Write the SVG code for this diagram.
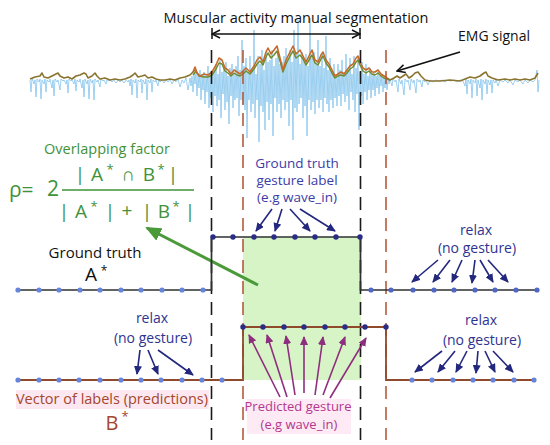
<svg xmlns="http://www.w3.org/2000/svg" width="550" height="445" viewBox="0 0 550 445">
<style>
text{font-family:"Open Sans","Liberation Sans",sans-serif}
.navy{fill:#3c3ca6;font-size:13.5px}
.relax{fill:#2f3390;font-size:14px}
.grn{fill:#3f923a}
.brn{fill:#a4472c}
.mag{fill:#b4378f;font-size:13px}
.na{stroke:#23287e;stroke-width:1.6;fill:none;marker-end:url(#hn)}
.pa{stroke:#8e2e7e;stroke-width:1.6;fill:none;marker-end:url(#hp)}
.bd{stroke:#1a1a1a;stroke-width:1.6;stroke-dasharray:13 8;fill:none}
.rd{stroke:#b55a3c;stroke-width:1.6;stroke-dasharray:13 8;fill:none}
.dl{fill:#6684dc}
.dn{fill:#2a2c86}
.dm{fill:#4f68c6}
</style>
<defs>
<marker id="hn" markerUnits="userSpaceOnUse" markerWidth="9" markerHeight="8" refX="8" refY="4" orient="auto"><path d="M0,0 L9,4 L0,8 z" fill="#23287e"/></marker>
<marker id="hp" markerUnits="userSpaceOnUse" markerWidth="9" markerHeight="8" refX="8" refY="4" orient="auto"><path d="M0,0 L9,4 L0,8 z" fill="#8e2e7e"/></marker>
<marker id="hg" markerUnits="userSpaceOnUse" markerWidth="16" markerHeight="14" refX="14" refY="7" orient="auto"><path d="M0,0 L16,7 L0,14 z" fill="#4b9a3a"/></marker>
<marker id="hk" markerUnits="userSpaceOnUse" markerWidth="10" markerHeight="10" refX="9" refY="5" orient="auto-start-reverse"><path d="M1,1 L9,5 L1,9" fill="none" stroke="#111" stroke-width="1.5"/></marker>
</defs>

<g id="emg-signal">
<polyline fill="none" stroke="#78bdea" stroke-width="0.8" stroke-opacity="0.9" points="30,80 31,92 32,78 34,84 35,80 36,97 37,79 39,82 40,79 41,99 42,80 44,84 45,79 46,92 47,80 49,82 50,79 52,88 53,80 54,96 55,79 57,82 58,80 60,90 61,79 63,81 64,80 66,84 67,80 68,93 69,79 71,81 72,80 74,84 75,79 76,91 77,80 79,82 80,79 82,88 83,80 84,97 85,79 87,84 88,80 89,99 90,79 92,83 93,80 94,100 95,79 97,82 98,80 100,87 101,79 103,81 104,80 106,84 107,80 109,81 110,80 112,82 114,80 116,83 118,80 120,82 122,80 124,83 126,80 128,82 129,80 130,86 131,79 132,95 133,80 135,83 136,79 137,98 138,80 140,82 141,79 142,93 143,80 145,84 146,79 147,100 148,80 150,83 151,79 152,92 153,80 155,82 156,80 158,86 159,80 160,82 162,80 164,83 166,80 168,82 170,79 172,84 174,80 176,82 178,79 180,87 182,80 184,83 186,78 188,90 190,78 191,86 192,76 193,92 194,74 195,84 196,72 197,96 198,75 199,88 200,70 201,100 202,76 203,90 204,72 205,104 206,74 207,92 208,66 209,108 210,76 211,98 212,70 213,112 214,72 215,96 216,64 217,106 218,74 219,100 220,60 221,118 222,72 223,94 224,66 225,110 226,62 227,102 228,76 229,124 230,68 231,96 232,64 233,108 234,74 235,100 236,66 237,98 238,56 239,116 240,70 241,100 242,40 243,104 244,66 245,110 246,58 247,138 248,72 249,100 250,56 251,112 252,68 253,104 254,30 255,118 256,74 257,100 258,56 259,142 260,64 261,106 262,50 263,112 264,70 265,130 266,52 267,102 268,62 269,120 270,60 271,104 272,50 273,136 274,66 275,98 276,58 277,112 278,54 279,104 280,64 281,118 282,62 283,100 284,56 285,110 286,48 287,102 288,58 289,126 290,50 291,100 292,62 293,140 294,30 295,108 296,54 297,112 298,20 299,104 300,64 301,98 302,52 303,118 304,58 305,106 306,54 307,136 308,66 309,100 310,18 311,110 312,58 313,102 314,52 315,114 316,62 317,100 318,40 319,108 320,66 321,100 322,54 323,112 324,68 325,98 326,36 327,104 328,70 329,112 330,58 331,100 332,72 333,108 334,64 335,98 336,74 337,106 338,64 339,96 340,70 341,106 342,60 343,94 344,72 345,102 346,54 347,96 348,70 349,110 350,58 351,92 352,74 353,100 354,56 355,112 356,68 357,94 358,58 359,130 360,72 361,96 362,62 363,104 364,74 365,92 366,64 367,100 368,76 369,90 370,68 371,98 372,74 373,90 374,72 375,96 376,76 377,88 378,72 379,94 380,76 381,86 382,74 383,92 384,78 385,88 386,76 387,90 388,78 389,84 390,79 392,86 393,79 395,82 396,80 398,92 399,79 401,84 402,80 404,95 405,79 407,82 408,80 410,90 411,79 413,83 414,80 416,93 417,79 419,82 420,80 422,87 423,80 425,82 426,80 428,85 430,80 433,82 436,80 439,81 442,80 445,82 448,80 451,81 454,80 457,82 460,80 463,81 465,86 466,79 467,94 468,80 470,84 471,79 472,98 473,80 475,83 476,79 477,96 478,80 480,88 481,79 482,100 483,80 485,84 486,79 487,94 488,80 490,85 491,80 492,93 493,80 495,83 496,80 498,86 500,80 503,82 505,80 508,83 510,80 513,85 515,80 518,82 520,80 523,84 525,80 528,83 530,80 533,82 535,80 537,70 538,92 539,80"/>
<polyline fill="none" stroke="#8a7430" stroke-width="1.6" stroke-linejoin="round" points="30,79 35,77 40,76 42,73 44,77 48,78 52,76 56,74 58,73 60,76 64,78 68,77 72,79 76,76 80,75 84,73 86,74 88,78 92,76 95,73 97,76 100,79 105,78 110,80 115,79 120,80 125,79 130,77 133,75 135,73 138,77 142,76 145,75 148,78 152,77 156,79 160,80 165,80 170,79 175,80 180,78 185,77 190,75 193,72 195,70"/>
<polyline fill="none" stroke="#8a7430" stroke-width="1.6" stroke-linejoin="round" points="387,78 390,80 394,78 397,76 400,78 403,76 406,74 409,78 412,76 415,73 418,72 421,76 425,80 430,81 440,81 450,80 460,81 465,79 470,77 475,78 480,76 484,73 486,72 488,76 492,78 498,80 505,79 510,80 515,79 520,80 525,79 530,80 535,78 538,73"/>
<polyline fill="none" stroke="#6f8c2e" stroke-width="1.5" stroke-linejoin="round" points="193,75 196,71 199,76 204,77 208,77 212,75 216,69 219,63 222,64 225,71 228,73 231,76 234,73 237,75 240,76 243,74 246,71 250,74 254,69 257,64 260,61 263,65 266,57 268,53 271,58 274,55 277,51 280,61 283,72 286,64 290,56 293,51 296,58 300,55 303,59 306,65 309,60 312,55 315,63 318,65 321,59 323,56 326,63 329,67 332,73 335,78 338,76 341,75 344,76 347,73 350,69 353,67 356,62 358,60 360,65 363,71 366,73 369,71 372,74 375,75 378,73 381,76 384,78 390,80"/>
<polyline fill="none" stroke="#c66a2c" stroke-width="1.6" stroke-linejoin="round" points="193,72 195,67 197,73 200,76 204,74 208,75 212,72 216,65 219,58 222,60 225,68 228,70 231,74 234,70 237,72 240,74 243,71 246,68 250,72 254,66 257,60 260,57 263,62 266,52 268,48 271,54 274,50 277,46 280,58 283,70 286,60 290,52 293,46 296,54 300,50 303,56 306,62 309,56 312,50 315,60 318,62 321,55 323,52 326,60 329,64 332,70 335,76 338,74 341,72 344,74 347,70 350,66 353,64 356,58 358,56 360,62 363,68 366,70 369,68 372,72 375,72 378,70 381,74 384,76 387,78"/>
</g>

<g id="overlap-region">
<rect x="243" y="237" width="118" height="143" fill="#d7f4c6"/>
</g>

<g id="segment-markers">
<path class="bd" d="M211.5,50 V440 M360.5,50 V440"/>
<path class="rd" d="M243,50 V440 M386,50 V440"/>
</g>

<g id="connectors">
<path d="M212,28 V39 M360,28 V39" stroke="#111" stroke-width="1.5"/>
<path d="M212,34 H360" stroke="#111" stroke-width="1.5" marker-start="url(#hk)" marker-end="url(#hk)"/>
<path d="M460,52 L397,71" stroke="#111" stroke-width="1.8" marker-end="url(#hk)"/>
<path d="M258,285 L147,228" stroke="#4b9a3a" stroke-width="3" marker-end="url(#hg)"/>
<path class="na" d="M272,209 L256,231"/>
<path class="na" d="M282,209 L275,231"/>
<path class="na" d="M290,209 L310,231"/>
<path class="na" d="M300,209 L335,231"/>
<path class="na" d="M438,260 L412,282"/>
<path class="na" d="M450,260 L433,282"/>
<path class="na" d="M462,260 L452,282"/>
<path class="na" d="M475,260 L472,283"/>
<path class="na" d="M480,260 L493,282"/>
<path class="na" d="M488,260 L508,282"/>
<path class="na" d="M140,350 L137,374"/>
<path class="na" d="M148,350 L158,374"/>
<path class="na" d="M158,350 L193,375"/>
<path class="na" d="M442,351 L415,372"/>
<path class="na" d="M455,351 L438,372"/>
<path class="na" d="M467,351 L456,372"/>
<path class="na" d="M478,351 L476,373"/>
<path class="na" d="M485,351 L495,372"/>
<path class="na" d="M493,351 L513,372"/>
<path class="pa" d="M280,397 L249,335"/>
<path class="pa" d="M287,397 L267,335"/>
<path class="pa" d="M295,395 L286,336"/>
<path class="pa" d="M304,393 L304,337"/>
<path class="pa" d="M315,395 L323,337"/>
<path class="pa" d="M323,395 L345,337"/>
<path class="pa" d="M330,398 L366,338"/>
</g>

<g id="ground-truth-A">
<path d="M18,290 H211.5 V237 H360.5 V290 H537" fill="none" stroke="#2f3030" stroke-width="1.7"/>
<g class="dl"><circle cx="18" cy="290" r="2.6"/><circle cx="39" cy="290" r="2.6"/><circle cx="59" cy="290" r="2.6"/><circle cx="80" cy="290" r="2.6"/><circle cx="100" cy="290" r="2.6"/><circle cx="121" cy="290" r="2.6"/><circle cx="141" cy="290" r="2.6"/><circle cx="162" cy="290" r="2.6"/><circle cx="182" cy="290" r="2.6"/><circle cx="203" cy="290" r="2.6"/></g>
<g class="dn"><circle cx="213" cy="237" r="2.7"/><circle cx="233" cy="237" r="2.7"/><circle cx="254" cy="237" r="2.7"/><circle cx="274" cy="237" r="2.7"/><circle cx="295" cy="237" r="2.7"/><circle cx="315" cy="237" r="2.7"/><circle cx="336" cy="237" r="2.7"/><circle cx="360" cy="237" r="2.7"/></g>
<g class="dm"><circle cx="371" cy="290" r="2.6"/><circle cx="391" cy="290" r="2.6"/><circle cx="413" cy="290" r="2.6"/><circle cx="434" cy="290" r="2.6"/><circle cx="454" cy="290" r="2.6"/><circle cx="475" cy="290" r="2.6"/><circle cx="495" cy="290" r="2.6"/><circle cx="516" cy="290" r="2.6"/><circle cx="537" cy="290" r="2.6"/></g>
</g>

<g id="predictions-B">
<path d="M18,380 H243 V327 H386 V380 H535" fill="none" stroke="#8f4a2c" stroke-width="1.8"/>
<g class="dl"><circle cx="18" cy="380" r="2.6"/><circle cx="39" cy="380" r="2.6"/><circle cx="59" cy="380" r="2.6"/><circle cx="79" cy="380" r="2.6"/><circle cx="100" cy="380" r="2.6"/><circle cx="121" cy="380" r="2.6"/><circle cx="141" cy="380" r="2.6"/><circle cx="161" cy="380" r="2.6"/><circle cx="182" cy="380" r="2.6"/><circle cx="202" cy="380" r="2.6"/><circle cx="222" cy="380" r="2.6"/></g>
<g class="dn"><circle cx="243" cy="327" r="2.7"/><circle cx="263" cy="327" r="2.7"/><circle cx="284" cy="327" r="2.7"/><circle cx="304" cy="327" r="2.7"/><circle cx="325" cy="327" r="2.7"/><circle cx="345" cy="327" r="2.7"/><circle cx="365" cy="327" r="2.7"/><circle cx="386" cy="327" r="2.7"/></g>
<g class="dl"><circle cx="412" cy="380" r="2.6"/><circle cx="432" cy="380" r="2.6"/><circle cx="453" cy="380" r="2.6"/><circle cx="473" cy="380" r="2.6"/><circle cx="493" cy="380" r="2.6"/><circle cx="514" cy="380" r="2.6"/><circle cx="534" cy="380" r="2.6"/></g>
</g>

<g id="title-label">
<text x="296" y="23" font-size="14.5" text-anchor="middle" fill="#111">Muscular activity manual segmentation</text>
</g>
<g id="emg-label">
<text x="494" y="41" font-size="14" text-anchor="middle" fill="#111">EMG signal</text>
</g>

<g id="overlap-formula" class="grn">
<text x="107" y="154" font-size="14.5" text-anchor="middle">Overlapping factor</text>
<text x="9" y="197" font-size="21">ρ=</text>
<text x="47" y="196" font-size="21">2</text>
<line x1="62" y1="190" x2="194" y2="190" stroke="#3f923a" stroke-width="1.6"/>
<g font-size="19">
<text x="80" y="181" text-anchor="middle">|</text>
<text x="97" y="181" text-anchor="middle">A</text>
<text x="110" y="174" font-size="13" text-anchor="middle">*</text>
<text x="128" y="181" text-anchor="middle">∩</text>
<text x="149" y="181" text-anchor="middle">B</text>
<text x="161" y="174" font-size="13" text-anchor="middle">*</text>
<text x="173" y="181" text-anchor="middle">|</text>
<text x="64" y="218" text-anchor="middle">|</text>
<text x="81" y="218" text-anchor="middle">A</text>
<text x="94" y="211" font-size="13" text-anchor="middle">*</text>
<text x="110" y="218" text-anchor="middle">|</text>
<text x="127" y="217" text-anchor="middle">+</text>
<text x="147" y="218" text-anchor="middle">|</text>
<text x="164" y="218" text-anchor="middle">B</text>
<text x="176" y="211" font-size="13" text-anchor="middle">*</text>
<text x="190" y="218" text-anchor="middle">|</text>
</g>
</g>

<g id="ground-truth-label">
<text x="95" y="258" font-size="15" text-anchor="middle" fill="#111">Ground truth</text>
<text x="91" y="281" font-size="19" text-anchor="middle" fill="#111">A</text>
<text x="104" y="275" font-size="12" text-anchor="middle" fill="#111">*</text>
</g>

<g id="gesture-label" class="navy" text-anchor="middle">
<text x="297" y="168">Ground truth</text>
<text x="297" y="185">gesture label</text>
<text x="297" y="202">(e.g wave_in)</text>
</g>

<g id="relax-top-right" class="relax" text-anchor="middle">
<text x="476" y="235">relax</text>
<text x="477" y="253">(no gesture)</text>
</g>
<g id="relax-bottom-left" class="relax" text-anchor="middle">
<text x="152" y="323">relax</text>
<text x="153" y="343">(no gesture)</text>
</g>
<g id="relax-bottom-right" class="relax" text-anchor="middle">
<text x="481" y="325">relax</text>
<text x="482" y="345">(no gesture)</text>
</g>

<g id="predictions-label" class="brn">
<rect x="16" y="390" width="193" height="19" fill="#fde8f1"/>
<text x="112" y="404" font-size="14.5" text-anchor="middle">Vector of labels (predictions)</text>
<text x="112" y="430" font-size="20" text-anchor="middle">B</text>
<text x="125" y="421" font-size="13" text-anchor="middle">*</text>
</g>

<g id="predicted-label" class="mag" text-anchor="middle">
<rect x="247" y="399" width="104" height="35" fill="#fdeaf4"/>
<text x="298" y="411">Predicted gesture</text>
<text x="299" y="429">(e.g wave_in)</text>
</g>
</svg>
